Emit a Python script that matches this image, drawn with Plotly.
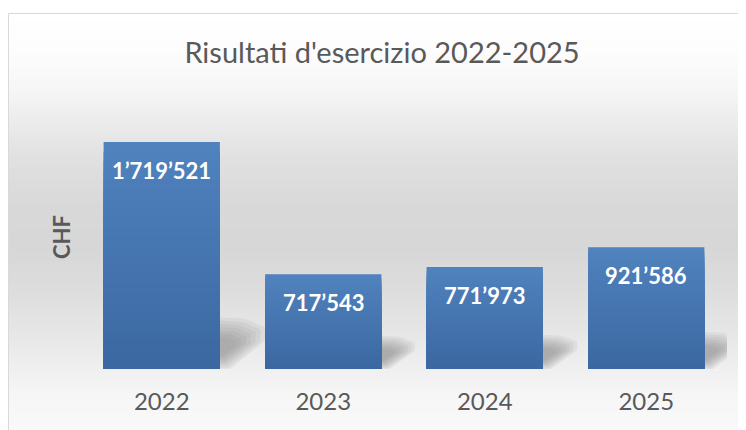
import plotly.graph_objects as go

# ---- data ----
years = ["2022", "2023", "2024", "2025"]
results = [1719521, 717543, 771973, 921586]
title_text = "Risultati d'esercizio 2022-2025"
y_title = "CHF"

W, H = 746, 430
OFF = 8  # page body margin: screenshot px = figure px + OFF
# target plot area in screenshot pixels
PX_L, PX_R, PX_T, PX_B = 81, 727, 105, 369
L = PX_L - OFF
R = W - (PX_R - OFF)
T = PX_T - OFF
B = H - (PX_B - OFF)
PW, PH = W - L - R, H - T - B
YMAX = 2000000
BARGAP = 0.28

def fmt(v):
    return f"{v:,}".replace(",", "\u2019")

def sx(px):  # screenshot x -> paper
    return (px - OFF - L) / PW

def sy(py):  # screenshot y -> paper
    return (H - B - (py - OFF)) / PH

pos = list(range(len(years)))

fig = go.Figure()

# gradient bars: overlaid copies, each darker and shorter
N = 24
top_c = (80, 130, 190)
bot_c = (60, 104, 161)
for k in range(N):
    f = 1 - k / N
    t = k / (N - 1)
    c = tuple(round(top_c[i] + (bot_c[i] - top_c[i]) * t) for i in range(3))
    fig.add_trace(go.Bar(
        x=pos, y=[v * f for v in results],
        marker=dict(color=f"rgb{c}", line=dict(width=0)),
        hoverinfo="skip", showlegend=False,
    ))

shapes = []
# background frame gradient (screenshot coords)
stops = [(13, 255), (50, 253), (90, 246), (120, 236), (160, 224), (210, 216),
         (250, 215), (290, 221), (330, 230), (365, 238), (395, 246), (440, 250)]
def gray_at(py):
    for (y0, g0), (y1, g1) in zip(stops, stops[1:]):
        if y0 <= py <= y1:
            return g0 + (g1 - g0) * (py - y0) / (y1 - y0)
    return stops[-1][1]
step = 4
py = 13
while py < H + OFF:
    g = round(gray_at(py + step / 2))
    shapes.append(dict(type="rect", xref="paper", yref="paper",
                       x0=sx(8), x1=sx(W + OFF + 5),
                       y0=sy(py), y1=sy(py + step + 0.5),
                       fillcolor=f"rgb({g},{g},{g})", line=dict(width=0), layer="below"))
    py += step
# frame border
shapes.append(dict(type="rect", xref="paper", yref="paper",
                   x0=sx(8.5), x1=sx(W + OFF + 5),
                   y0=sy(H + OFF + 5), y1=sy(13.5),
                   fillcolor="rgba(0,0,0,0)", line=dict(color="#d9d9d9", width=1), layer="below"))

# soft perspective shadows behind bars (pixel-sized paths anchored at bar's right base)
half = (1 - BARGAP) / 2
px_per_unit = PH / YMAX
NL = 7
for i, v in enumerate(results):
    bh = v * px_per_unit
    h = 20 + 0.14 * bh
    w = 25 + 0.09 * bh
    outer = [(0, -1), (0, h), (0.55 * w, 0.97 * h), (w, 0.8 * h),
             (w, 0.55 * h), (0.2 * w, -1)]
    cy = 0.4 * h
    for j in range(NL):
        q = j / NL
        sc = 1 - 0.75 * q
        pts = [(x * sc, cy + (y - cy) * sc) for x, y in outer]
        pts[0] = (0, max(-1, pts[0][1]))
        path = "M " + " L ".join(f"{x:.1f} {y:.1f}" for x, y in pts) + " Z"
        shapes.append(dict(type="path", xref="x", yref="y",
                           xsizemode="pixel", ysizemode="pixel",
                           xanchor=i + half, yanchor=0, path=path,
                           fillcolor="rgb(110,110,110)", opacity=0.09, line=dict(width=0),
                           layer="below"))

annotations = []
for i, v in enumerate(results):
    annotations.append(dict(x=i, y=v, xref="x", yref="y", text=f"<b>{fmt(v)}</b>",
                            showarrow=False, yshift=-28,
                            font=dict(family="Lato", size=22, color="white")))
annotations.append(dict(x=sx(61), y=sy(237), xref="paper", yref="paper",
                        xanchor="center", yanchor="middle",
                        text=f"<b>{y_title}</b>", textangle=-90, showarrow=False,
                        font=dict(family="Lato", size=22, color="#595959")))

fig.update_layout(
    width=W, height=H,
    margin=dict(l=L, r=R, t=T, b=B, pad=0),
    paper_bgcolor="white", plot_bgcolor="rgba(0,0,0,0)",
    barmode="overlay", bargap=BARGAP,
    title=dict(text=title_text, xref="container", yref="container",
               x=(382 - OFF) / W, y=1 - (53 - OFF) / H, xanchor="center", yanchor="middle",
               font=dict(family="Lato", size=29, color="#595959")),
    xaxis=dict(range=[-0.5, len(years) - 0.5], tickvals=pos, ticktext=years,
               showgrid=False, zeroline=False, showline=False,
               ticks="", tickfont=dict(family="Lato", size=24, color="#595959"),
               ticklabelstandoff=16),
    yaxis=dict(range=[0, YMAX], showgrid=False, zeroline=False, showline=False,
               showticklabels=False, ticks=""),
    shapes=shapes, annotations=annotations,
    showlegend=False,
)

fig.write_html("out.html")
